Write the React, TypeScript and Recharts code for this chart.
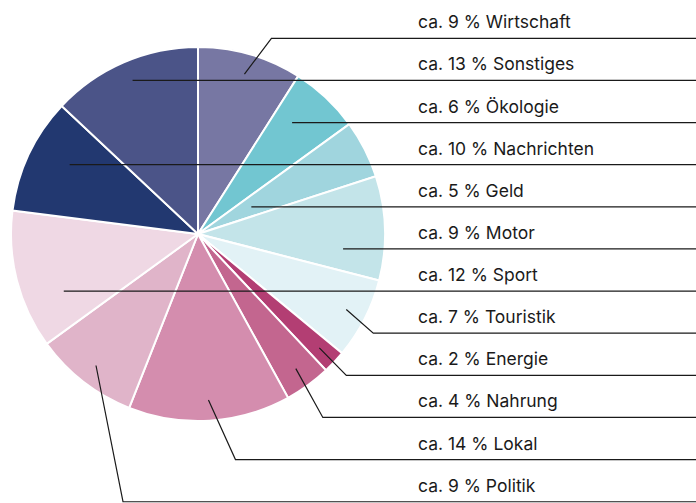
import React from 'react';
import { PieChart, Pie, Cell } from 'recharts';

const categories = ['Wirtschaft', 'Ökologie', 'Geld', 'Motor', 'Touristik', 'Energie', 'Nahrung', 'Lokal', 'Politik', 'Sport', 'Nachrichten', 'Sonstiges'];
const shares = [9, 6, 5, 9, 7, 2, 4, 14, 9, 12, 10, 13];
const colors = ['#7777a3', '#72c6d1', '#a0d5de', '#c3e4e9', '#e2f2f6', '#b33e73', '#c3668f', '#d48dae', '#e0b4c9', '#efd8e4', '#223870', '#4b5488'];
const labelOrder = ['Wirtschaft', 'Sonstiges', 'Ökologie', 'Nachrichten', 'Geld', 'Motor', 'Sport', 'Touristik', 'Energie', 'Nahrung', 'Lokal', 'Politik'];

const data = categories.map((name, i) => ({ name, value: shares[i] }));

const W = 696;
const H = 503;
const FIRST_LINE = 38.3;
const STEP = 42.13;
const TEXT_X = 418;

const rad = Math.PI / 180;

function inSlice(angle: number, s: number, e: number) {
  const span = Math.abs(s - e);
  let d = (Math.max(s, e) - angle) % 360;
  if (d < 0) d += 360;
  return d <= span;
}

const renderLabel = (props: any) => {
  const { cx, cy, midAngle, outerRadius, startAngle, endAngle, name, value } = props;
  const R = outerRadius;
  const row = labelOrder.indexOf(name);
  const lineY = FIRST_LINE + row * STEP;
  const dy = lineY - cy;
  const side = Math.cos(midAngle * rad) >= 0 ? 1 : -1;
  let d = '';
  const r1 = Math.max(0.78 * R, Math.abs(dy) / 0.92);
  let done = false;
  if (r1 <= R && Math.abs(dy) < r1) {
    const dx = side * Math.sqrt(r1 * r1 - dy * dy);
    const ang = Math.atan2(-dy, dx) / rad;
    if (inSlice(ang, startAngle, endAngle)) {
      d = `M${cx + dx},${lineY}H${W}`;
      done = true;
    }
  }
  if (!done) {
    const s = Math.sin(midAngle * rad);
    if (Math.abs(s) > 1e-6) {
      const r2 = -dy / s;
      if (r2 > 0.2 * R && r2 < 0.92 * R) {
        const x = cx + r2 * Math.cos(midAngle * rad);
        d = `M${x},${lineY}H${W}`;
        done = true;
      }
    }
  }
  if (!done) {
    const r3 = 0.89 * R;
    const sx = cx + r3 * Math.cos(midAngle * rad);
    const sy = cy - r3 * Math.sin(midAngle * rad);
    d = `M${sx},${sy}L${sx + 27},${lineY}H${W}`;
  }
  return (
    <g key={`lbl-${name}`}>
      <path d={d} stroke="#1a1a1a" strokeWidth={1.2} fill="none" />
      <text x={TEXT_X} y={lineY - 10} fill="#1a1a1a" fontSize={17.5} fontFamily="Inter, 'Noto Sans', sans-serif" textAnchor="start">
        {`ca. ${value} % ${name}`}
      </text>
    </g>
  );
};

export default function App() {
  return (
    <div style={{ position: 'absolute', left: 0, top: 0, width: W, height: H, background: '#fff' }}>
      <PieChart width={W} height={H} margin={{ top: 0, right: 0, bottom: 0, left: 0 }}>
        <Pie
          data={data}
          dataKey="value"
          nameKey="name"
          cx={198}
          cy={234}
          outerRadius={187}
          startAngle={90}
          endAngle={-270}
          stroke="#ffffff"
          strokeWidth={2}
          label={renderLabel}
          labelLine={false}
          isAnimationActive={false}
        >
          {data.map((d, i) => (
            <Cell key={d.name} fill={colors[i]} />
          ))}
        </Pie>
      </PieChart>
    </div>
  );
}
